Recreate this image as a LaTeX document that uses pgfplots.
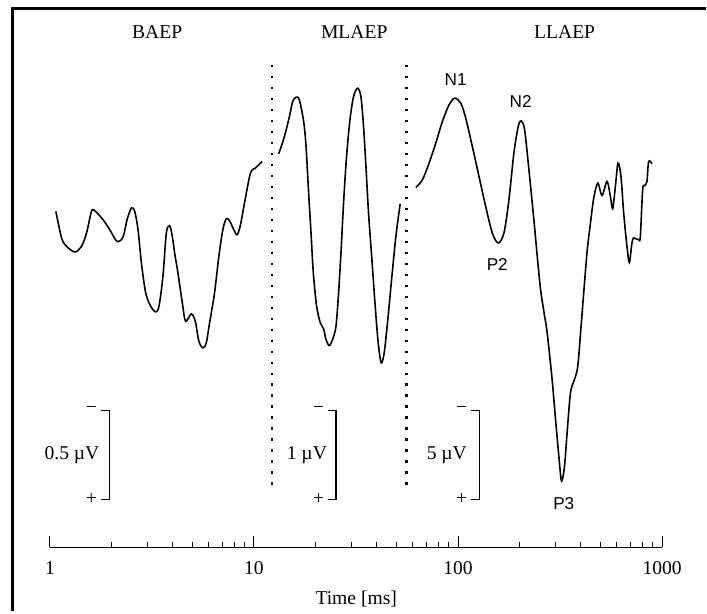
\documentclass[border=0pt]{standalone}
\usepackage{pgfplots}
\pgfplotsset{compat=1.18}
\usepackage{fontspec}
\setmainfont{Liberation Serif}
\newfontfamily\sansf{Liberation Sans}
\newcommand\lbl{\fontsize{9.8}{11}\selectfont}
\newcommand\slbl{\sansf\fontsize{8.6}{10}\selectfont}
\begin{document}
\begin{tikzpicture}
\begin{axis}[
  xmode=log, xmin=1, xmax=1000, ymin=-548, ymax=-8,
  scale only axis, width=306.5pt, height=270pt,
  axis x line=bottom, axis y line=none,
  x axis line style={-, line width=0.5pt},
  xtick={1,10,100,1000}, xticklabels={1,10,100,1000},
  ytick=\empty,
  tick align=inside, major tick length=5.5pt, minor tick length=2.5pt,
  every tick/.style={black, line width=0.5pt},
  xticklabel style={font=\lbl},
  xticklabel shift=3.5pt,
  /pgf/number format/assume math mode=true,
  clip=false,
]
% bounding box and frame
\path (axis cs:0.5695,0) rectangle (axis cs:1632,-612);
\draw[line width=1.5pt] (axis cs:0.6594,-612) -- (axis cs:0.6594,-8.5) -- (axis cs:1632,-8.5);

% dotted separators
\draw[line width=1.2pt, dash pattern=on 1.1pt off 4.4pt] (axis cs:12.27,-65) -- (axis cs:12.27,-488);
\draw[line width=1.2pt, dash pattern=on 1.1pt off 4.4pt] (axis cs:55.87,-65) -- (axis cs:55.87,-488);

% BAEP
\addplot[black, line width=0.8pt, smooth, tension=0.5] coordinates {
(1.070,-211.7) (1.141,-238.3) (1.207,-246.7) (1.325,-252.3) (1.429,-246.7)
(1.512,-233.3) (1.599,-211.7) (1.660,-211) (1.822,-220) (1.965,-230)
(2.134,-241.7) (2.283,-237.3) (2.388,-220) (2.509,-208.3) (2.604,-211.7)
(2.703,-230) (2.808,-263.3) (2.948,-293.3) (3.118,-306.7) (3.298,-312.3)
(3.423,-306.7) (3.581,-276.7) (3.721,-233.3) (3.862,-226) (3.981,-236.7)
(4.086,-253.3) (4.241,-273.3) (4.456,-303.3) (4.624,-321.7) (4.931,-314.3)
(5.158,-321.7) (5.372,-341.7) (5.619,-348.3) (5.839,-343.3) (6.060,-323.3)
(6.410,-293.3) (6.729,-256.7) (7.039,-230) (7.314,-219) (7.590,-221)
(7.966,-230) (8.277,-235) (8.590,-225) (8.985,-203.3) (9.614,-173.3)
(10.17,-168.3) (10.97,-161.7)
};

% MLAEP
\addplot[black, line width=0.8pt, smooth, tension=0.5] coordinates {
(13.22,-154) (14.10,-136.7) (14.92,-116.7) (15.48,-101.7) (16.09,-97.3)
(16.69,-100) (17.52,-121.7) (18.00,-146.7) (18.53,-193.3) (19.04,-233.3)
(19.54,-273.3) (20.28,-306.7) (21.14,-323.3) (21.94,-329.3) (22.54,-340)
(23.39,-346) (24.28,-340) (25.23,-326.7) (25.98,-293.3) (26.69,-253.3)
(27.48,-203.3) (28.43,-156.7) (29.54,-120) (30.76,-96.7) (32.18,-88.3)
(33.43,-96.7) (34.43,-126.7) (35.38,-166.7) (36.43,-213.3) (37.84,-260)
(39.28,-306.7) (40.63,-343.3) (42.03,-363.3) (43.47,-353.3) (45.11,-323.3)
(47.41,-276.7) (49.60,-236.7) (52.05,-204)
};

% LLAEP
\addplot[black, line width=0.8pt, smooth, tension=0.5] coordinates {
(62.11,-187.7) (66.90,-180) (72.14,-163.3) (77.80,-143.3) (83.82,-121.7)
(90.36,-105) (96.36,-98.3) (103.1,-103.3) (109.1,-118.3) (117.5,-146.7)
(126.7,-176.7) (136.6,-206.7) (147.2,-233.3) (157.4,-243.3) (167.9,-233.3)
(177.6,-200) (187.8,-153.3) (197.2,-126.7) (204.0,-121) (212.0,-130)
(222.5,-170) (235.3,-220) (245.3,-260) (253.8,-290) (263.4,-312)
(273.4,-333.3) (289.1,-380) (300.5,-420) (311.9,-456.7) (321.5,-481.7)
(332.5,-466.7) (342.4,-433.3) (355.7,-393.3) (372.1,-380) (386.2,-366.7)
(400.8,-326.7) (417.8,-280) (429.9,-250) (445.6,-223.3) (462.4,-198.3)
(483.8,-183.3) (507.7,-195.7) (537.1,-181.7) (558.0,-196.7) (572.6,-209)
(590.3,-186.7) (608.0,-163.3) (628.8,-176.7) (648.2,-213.3) (672.8,-246.7)
(691.2,-262.7) (711.7,-243.3) (725.4,-238.3) (767.6,-240) (782.4,-236.7)
(802.9,-190) (821.2,-186) (842.8,-181.7) (859.0,-161.7) (891.5,-164)
};

% section titles
\node[font=\lbl] at (axis cs:3.355,-32) {BAEP};
\node[font=\lbl] at (axis cs:31.0,-32) {MLAEP};
\node[font=\lbl] at (axis cs:333.0,-32) {LLAEP};

% peak labels
\node[font=\slbl] at (axis cs:97.4,-80) {N1};
\node[font=\slbl] at (axis cs:202.6,-101.7) {N2};
\node[font=\slbl] at (axis cs:155.7,-265) {P2};
\node[font=\slbl] at (axis cs:329.8,-504) {P3};

% scale bars
\draw[line width=0.7pt] (axis cs:1.776,-411) -- (axis cs:1.965,-411) -- (axis cs:1.965,-500) -- (axis cs:1.776,-500);
\node[font=\lbl] at (axis cs:1.599,-411) {−};
\node[font=\lbl] at (axis cs:1.599,-500) {+};
\node[font=\lbl, anchor=east, inner sep=0pt] at (axis cs:1.756,-456) {0.5 µV};

\draw[line width=0.7pt] (axis cs:22.96,-411) -- (axis cs:25.23,-411) -- (axis cs:25.23,-500) -- (axis cs:22.96,-500);
\node[font=\lbl] at (axis cs:20.75,-411) {−};
\node[font=\lbl] at (axis cs:20.75,-500) {+};
\node[font=\lbl, anchor=east, inner sep=0pt] at (axis cs:22.88,-456) {1 µV};

\draw[line width=0.7pt] (axis cs:115.4,-411) -- (axis cs:127.7,-411) -- (axis cs:127.7,-500) -- (axis cs:115.4,-500);
\node[font=\lbl] at (axis cs:104.3,-411) {−};
\node[font=\lbl] at (axis cs:104.3,-500) {+};
\node[font=\lbl, anchor=east, inner sep=0pt] at (axis cs:111.0,-456) {5 µV};

% axis title
\node[font=\lbl] at (axis cs:31.7,-600) {Time [ms]};
\end{axis}
\end{tikzpicture}
\end{document}
